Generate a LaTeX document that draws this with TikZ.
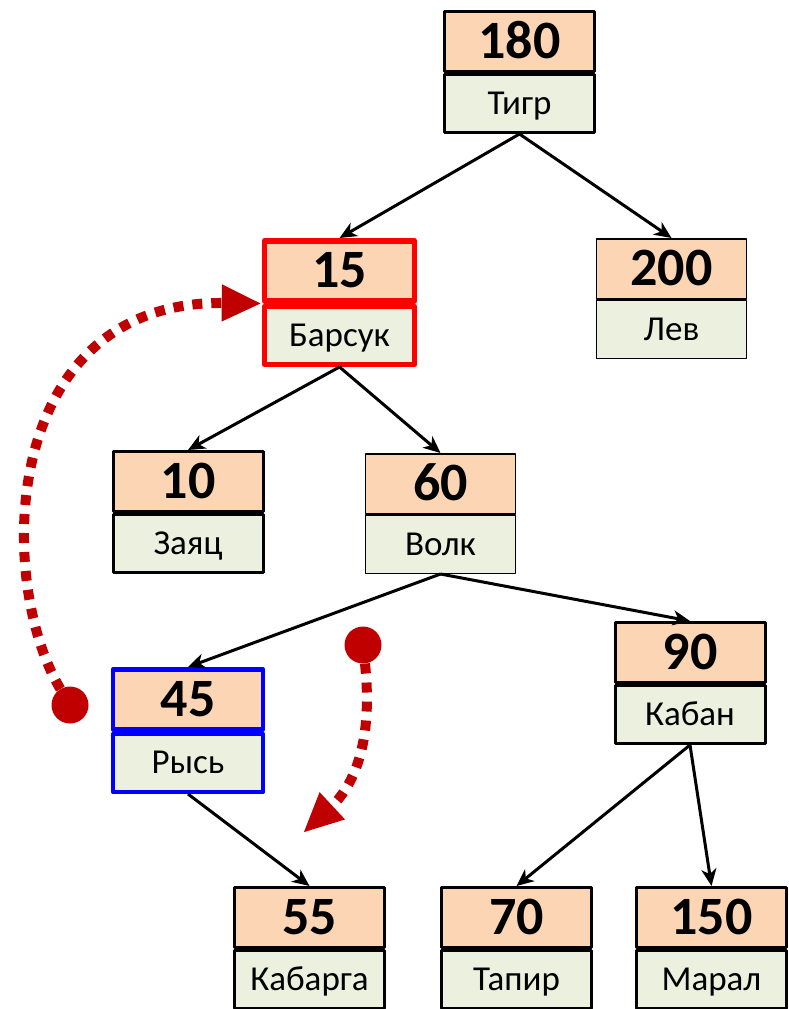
\documentclass[tikz,border=0pt]{standalone}
\usepackage{fontspec}
\setmainfont{Carlito}
\usetikzlibrary{arrows.meta}
\definecolor{keyfill}{HTML}{FCD5B5}
\definecolor{namefill}{HTML}{EBF1DE}
\definecolor{darkred}{HTML}{C00000}
\definecolor{hired}{HTML}{FF0000}
\definecolor{hiblue}{HTML}{0000FF}
\tikzset{
  boxbase/.style={draw=black, line width=3pt, line join=round, inner sep=0pt, minimum width=150pt},
  numbox/.style={boxbase, fill=keyfill, minimum height=60pt, text height=34pt, text depth=0pt,
    font=\fontsize{54}{54}\selectfont\bfseries},
  namebox/.style={boxbase, fill=namefill, minimum height=58pt, text height=22pt, text depth=0pt,
    font=\fontsize{35}{35}\selectfont},
  thin/.style={line width=1.5pt},
  redframe/.style={draw=hired, line width=5.5pt},
  blueframe/.style={draw=hiblue, line width=4.5pt},
  edge/.style={line width=3pt, -{Stealth[length=17pt,width=15pt,inset=5pt]}},
  hint/.style={draw=darkred, line width=10pt, dash pattern=on 10pt off 9pt,
    -{Triangle[length=40pt,width=34pt]}, color=darkred},
  dot/.style={circle, fill=darkred, inner sep=0pt, minimum size=37pt},
}
% key box on top, name box directly below
\newcommand\treenode[6]{%
  \node[numbox,#6,anchor=north] (#1) at (#2,#3) {#4};
  \node[namebox,#6,anchor=north] (#1l) at (#1.south) {#5};
}
\begin{document}
\begin{tikzpicture}[x=1pt,y=-1pt]
\useasboundingbox (0,0) rectangle (788,1009);

\treenode{n180}{519.5}{10}{180}{Тигр}{}
\treenode{n15}{339.5}{238}{15}{Барсук}{redframe}
\treenode{n200}{671.5}{238}{200}{Лев}{thin}
\treenode{n10}{188}{450}{10}{Заяц}{}
\treenode{n60}{440.5}{453}{60}{Волк}{thin}
\treenode{n45}{188}{667}{45}{Рысь}{blueframe}
\treenode{n90}{690}{621}{90}{Кабан}{}
\treenode{n55}{309.5}{886}{55}{Кабарга}{}
\treenode{n70}{516.5}{886}{70}{Тапир}{}
\treenode{n150}{711.5}{886}{150}{Марал}{}

\draw[edge] (n180l.south) -- (n15.north);
\draw[edge] (n180l.south) -- (n200.north);
\draw[edge] (n15l.south) -- (n10.north);
\draw[edge] (n15l.south) -- (n60.north);
\draw[edge] (n60l.south) -- (n45.north);
\draw[edge] (n60l.south) -- (n90.north);
\draw[edge] (n45l.south) -- (n55.north);
\draw[edge] (n90l.south) -- (n70.north);
\draw[edge] (n90l.south) -- (n150.north);

% dotted hints
\node[dot] (d1) at (70,705) {};
\node[dot] (d2) at (363,645) {};
\coordinate (t2) at (303,833);
\draw[hint] (d1) .. controls (-5,580) and (0,300) .. (n15.south west);
\draw[hint] (d2) .. controls (372,730) and (360,780) .. (t2);
\end{tikzpicture}
\end{document}
